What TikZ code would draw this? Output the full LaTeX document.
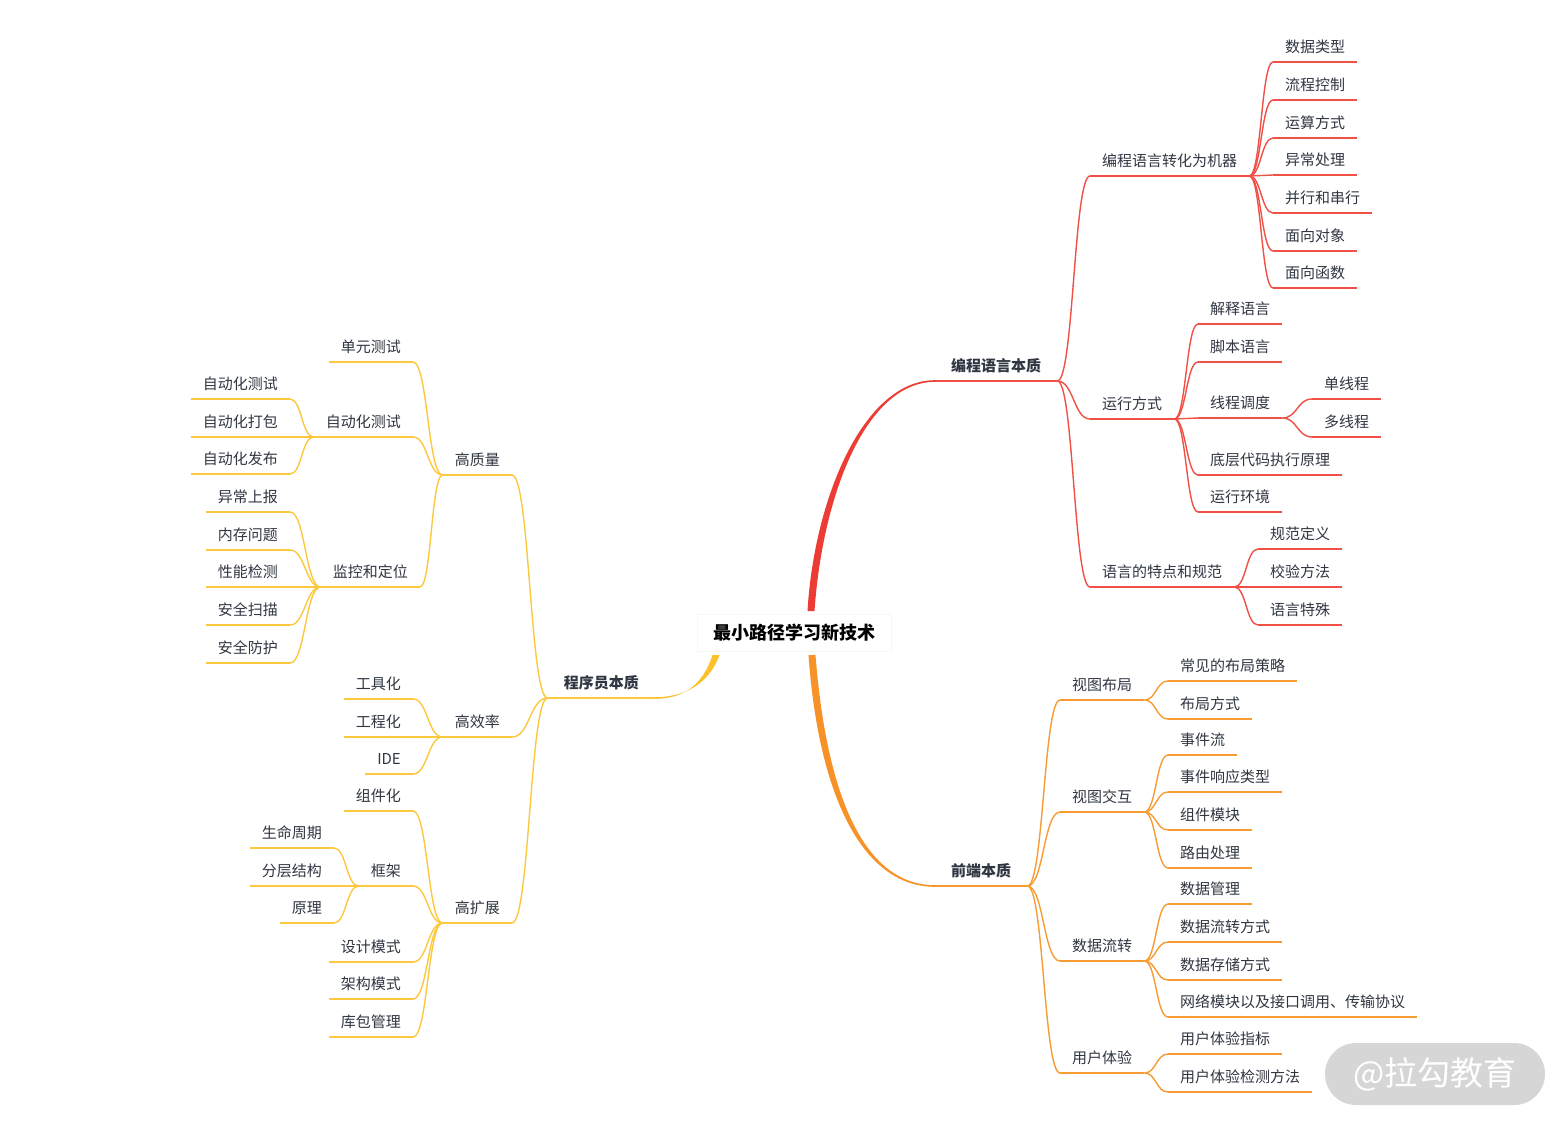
\documentclass[tikz,border=0pt]{standalone}
\usepackage{fontspec}
\setmainfont{Noto Sans CJK SC}
\usetikzlibrary{calc}
\definecolor{cred}{RGB}{240,80,70}
\definecolor{credm}{RGB}{236,60,52}
\definecolor{cora}{RGB}{247,156,52}
\definecolor{coram}{RGB}{246,146,40}
\definecolor{cyel}{RGB}{252,200,62}
\definecolor{cyelm}{RGB}{252,192,40}
\definecolor{ctxt}{RGB}{48,54,66}
\definecolor{cwm}{RGB}{214,214,214}
\tikzset{
  item/.style={inner xsep=12pt, inner ysep=6pt, text height=12pt, text depth=3pt,
    font=\fontsize{15}{18}\selectfont, text=ctxt},
  mainitem/.style={item, inner xsep=16pt, font=\fontsize{15}{18}\selectfont\bfseries},
  rs/.style={item, anchor=south west},
  ls/.style={item, anchor=south east},
  sbend/.style={to path={.. controls ($(\tikztostart)!0.5!(\tikztostart -| \tikztotarget)$) and ($(\tikztotarget)!0.5!(\tikztotarget -| \tikztostart)$) .. (\tikztotarget)}},
  ln/.style={line width=1.4pt},
}
% right-side child: name, x, y, text, colour, parent
\newcommand\RN[6]{\node[rs] (#1) at (#2,#3) {#4};
  \draw[ln,#5] (#1.south west) -- (#1.south east);
  \draw[ln,#5] (#6.south east) to[sbend] (#1.south west);}
% left-side child: name, x, y, text, colour, parent
\newcommand\LN[6]{\node[ls] (#1) at (#2,#3) {#4};
  \draw[ln,#5] (#1.south west) -- (#1.south east);
  \draw[ln,#5] (#6.south west) to[sbend] (#1.south east);}
\begin{document}
\begin{tikzpicture}[x=1pt,y=-1pt]
\useasboundingbox (0,0) rectangle (1566,1125);
\fill[white] (0,0) rectangle (1566,1125);

% root
\node[font=\fontsize{18}{22}\selectfont\bfseries, text=black, fill=white, draw=black!3,
  inner xsep=16pt, inner ysep=10pt] (root) at (794,633) {最小路径学习新技术};
\coordinate (rt) at (811,611);
\coordinate (rb) at (812,655);
\coordinate (rl) at (716,655);

% main nodes
\node[mainitem, anchor=south west] (pl) at (935,381) {编程语言本质};
\draw[ln,cred] (pl.south west) -- (pl.south east);
\node[mainitem, anchor=south west] (fe) at (935,886) {前端本质};
\draw[ln,cora] (fe.south west) -- (fe.south east);
\node[mainitem, anchor=south east] (pg) at (655,698) {程序员本质};
\draw[ln,cyel] (pg.south west) -- (pg.south east);

% main branches (tapered)
\fill[credm] ($(rt)+(-3.5,0)$) .. controls (814,500) and (863,380.2) .. ($(pl.south west)+(0,-0.8)$)
  -- ($(pl.south west)+(0,0.8)$) .. controls (864,382.2) and (822,500) .. ($(rt)+(3.5,0)$) -- cycle;
\fill[coram] ($(rb)+(-3.5,0)$) .. controls (818,790) and (860,886.8) .. ($(fe.south west)+(0,0.8)$)
  -- ($(fe.south west)+(0,-0.8)$) .. controls (862,885.2) and (826,790) .. ($(rb)+(3.5,0)$) -- cycle;
\fill[cyelm] ($(rl)+(-3.5,0)$) .. controls (702,688) and (680,698.8) .. ($(pg.south east)+(0,0.8)$)
  -- ($(pg.south east)+(0,-0.8)$) .. controls (682,697.2) and (708,686) .. ($(rl)+(3.5,0)$) -- cycle;

% ---------- red: 编程语言本质 ----------
\RN{r1}{1090}{176}{编程语言转化为机器}{cred}{pl}
\RN{r2}{1090}{419}{运行方式}{cred}{pl}
\RN{r3}{1090}{587}{语言的特点和规范}{cred}{pl}

\RN{r11}{1273}{62}{数据类型}{cred}{r1}
\RN{r12}{1273}{100}{流程控制}{cred}{r1}
\RN{r13}{1273}{138}{运算方式}{cred}{r1}
\RN{r14}{1273}{175}{异常处理}{cred}{r1}
\RN{r15}{1273}{213}{并行和串行}{cred}{r1}
\RN{r16}{1273}{251}{面向对象}{cred}{r1}
\RN{r17}{1273}{288}{面向函数}{cred}{r1}

\RN{r21}{1198}{324}{解释语言}{cred}{r2}
\RN{r22}{1198}{362}{脚本语言}{cred}{r2}
\RN{r23}{1198}{418}{线程调度}{cred}{r2}
\RN{r24}{1198}{475}{底层代码执行原理}{cred}{r2}
\RN{r25}{1198}{512}{运行环境}{cred}{r2}

\RN{r231}{1312}{399}{单线程}{cred}{r23}
\RN{r232}{1312}{437}{多线程}{cred}{r23}

\RN{r31}{1258}{549}{规范定义}{cred}{r3}
\RN{r32}{1258}{587}{校验方法}{cred}{r3}
\RN{r33}{1258}{625}{语言特殊}{cred}{r3}

% ---------- orange: 前端本质 ----------
\RN{f1}{1060}{700}{视图布局}{cora}{fe}
\RN{f2}{1060}{812}{视图交互}{cora}{fe}
\RN{f3}{1060}{961}{数据流转}{cora}{fe}
\RN{f4}{1060}{1073}{用户体验}{cora}{fe}

\RN{f11}{1168}{681}{常见的布局策略}{cora}{f1}
\RN{f12}{1168}{719}{布局方式}{cora}{f1}

\RN{f21}{1168}{755}{事件流}{cora}{f2}
\RN{f22}{1168}{792}{事件响应类型}{cora}{f2}
\RN{f23}{1168}{830}{组件模块}{cora}{f2}
\RN{f24}{1168}{868}{路由处理}{cora}{f2}

\RN{f31}{1168}{904}{数据管理}{cora}{f3}
\RN{f32}{1168}{942}{数据流转方式}{cora}{f3}
\RN{f33}{1168}{980}{数据存储方式}{cora}{f3}
\RN{f34}{1168}{1017}{网络模块以及接口调用、传输协议}{cora}{f3}

\RN{f41}{1168}{1054}{用户体验指标}{cora}{f4}
\RN{f42}{1168}{1092}{用户体验检测方法}{cora}{f4}

% ---------- yellow: 程序员本质 ----------
\LN{y1}{512}{475}{高质量}{cyel}{pg}
\LN{y2}{512}{737}{高效率}{cyel}{pg}
\LN{y3}{512}{923}{高扩展}{cyel}{pg}

\LN{y11}{413}{362}{单元测试}{cyel}{y1}
\LN{y12}{413}{437}{自动化测试}{cyel}{y1}
\LN{y13}{420}{587}{监控和定位}{cyel}{y1}

\LN{y121}{290}{399}{自动化测试}{cyel}{y12}
\LN{y122}{290}{437}{自动化打包}{cyel}{y12}
\LN{y123}{290}{474}{自动化发布}{cyel}{y12}

\LN{y131}{290}{512}{异常上报}{cyel}{y13}
\LN{y132}{290}{550}{内存问题}{cyel}{y13}
\LN{y133}{290}{587}{性能检测}{cyel}{y13}
\LN{y134}{290}{625}{安全扫描}{cyel}{y13}
\LN{y135}{290}{663}{安全防护}{cyel}{y13}

\LN{y21}{413}{699}{工具化}{cyel}{y2}
\LN{y22}{413}{737}{工程化}{cyel}{y2}
\LN{y23}{413}{774}{IDE}{cyel}{y2}

\LN{y31}{413}{811}{组件化}{cyel}{y3}
\LN{y32}{413}{886}{框架}{cyel}{y3}
\LN{y33}{413}{962}{设计模式}{cyel}{y3}
\LN{y34}{413}{999}{架构模式}{cyel}{y3}
\LN{y35}{413}{1037}{库包管理}{cyel}{y3}

\LN{y321}{334}{848}{生命周期}{cyel}{y32}
\LN{y322}{334}{886}{分层结构}{cyel}{y32}
\LN{y323}{334}{923}{原理}{cyel}{y32}

% watermark
\node[fill=cwm, rounded corners=31pt, minimum width=220pt, minimum height=62pt,
  text=white, font=\fontsize{33}{38}\selectfont] (wm) at (1435,1074) {@拉勾教育};
\end{tikzpicture}
\end{document}
